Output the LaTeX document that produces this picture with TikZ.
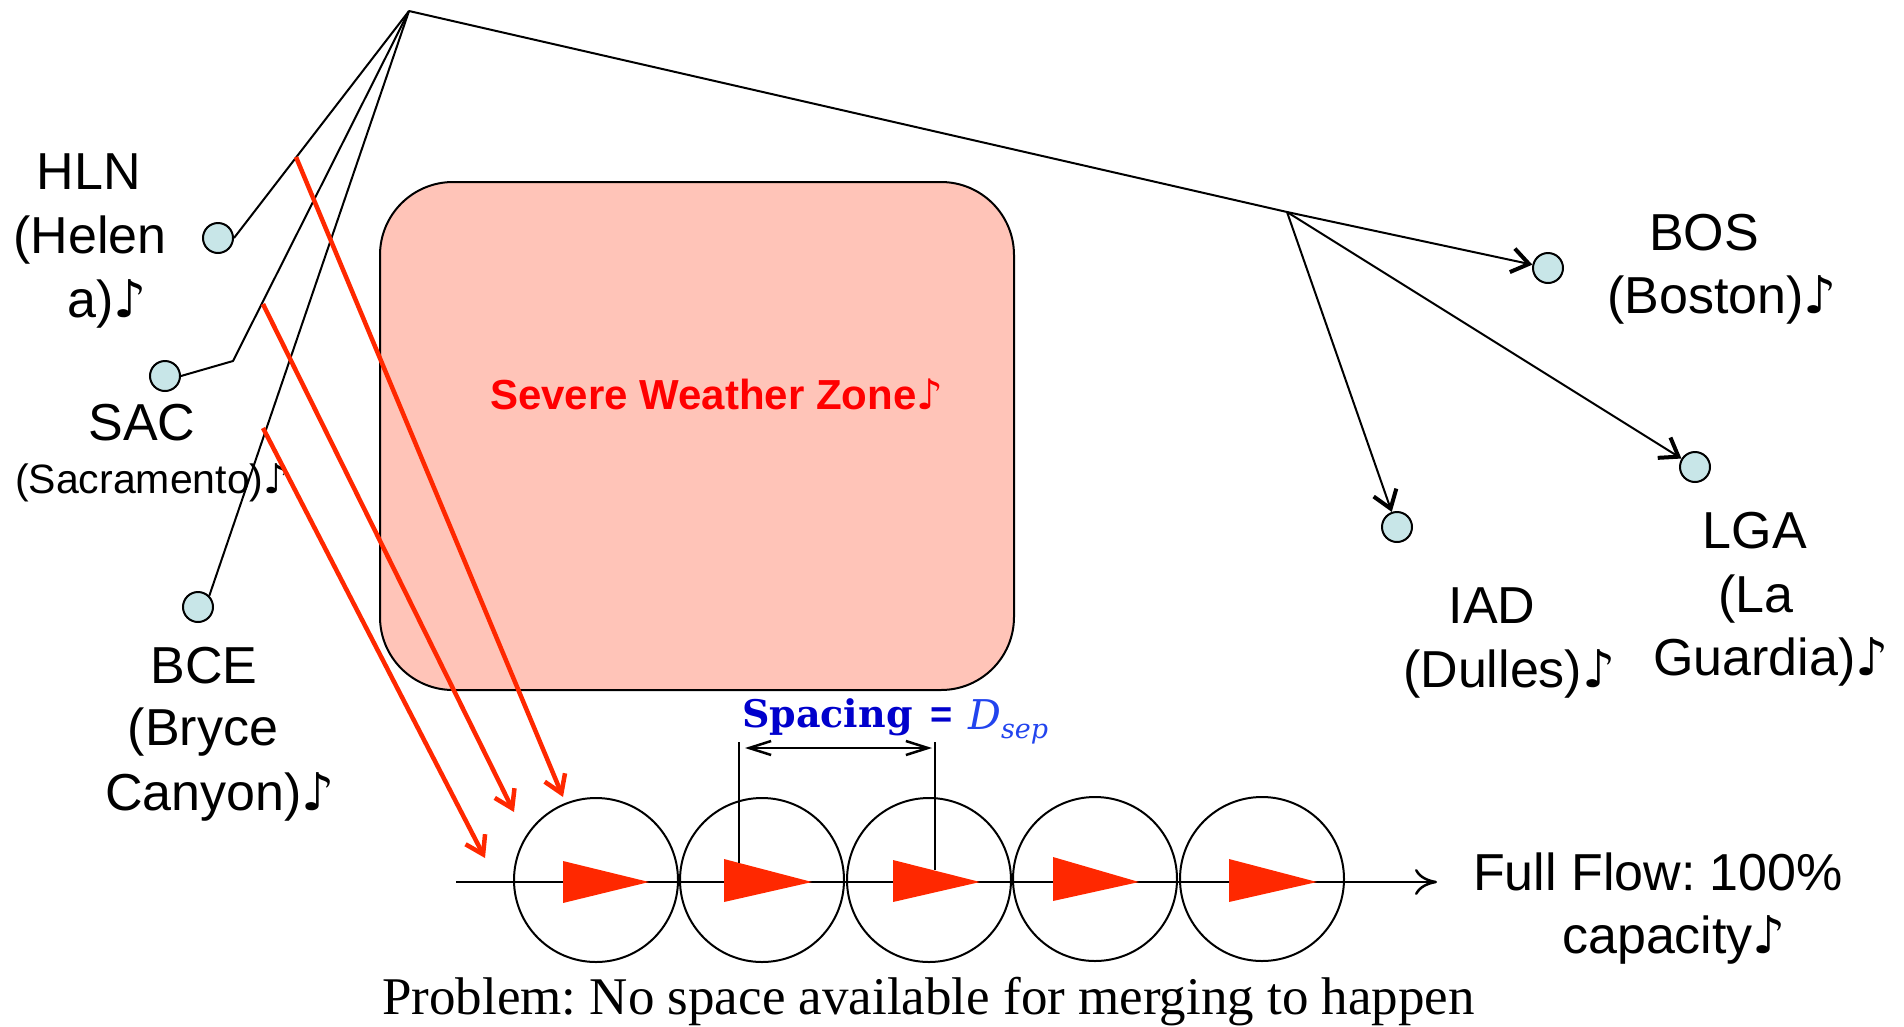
\documentclass[tikz,border=0pt]{standalone}
\usepackage{fontspec}
\setmainfont{Liberation Sans}
\newfontfamily\timesfont{Liberation Serif}
\newfontfamily\scholafont{DejaVu Serif}
\newfontfamily\djvfont{DejaVu Sans}
\newcommand\mnote{{\djvfont ♪}}
\usetikzlibrary{arrows.meta}
\definecolor{arrred}{RGB}{255,40,0}
\definecolor{zonefill}{RGB}{255,196,184}
\definecolor{aptfill}{RGB}{200,230,232}
\definecolor{spblue}{RGB}{0,0,204}
\definecolor{dblue}{RGB}{34,68,238}
\frenchspacing
\begin{document}
\begin{tikzpicture}[x=1pt,y=-1pt,
  apt/.style={circle,draw=black,line width=2pt,fill=aptfill,minimum size=30pt,inner sep=0pt},
  lbl/.style={anchor=base,inner sep=0pt,font=\fontsize{52}{62}\selectfont},
  lblw/.style={anchor=base west,inner sep=0pt,font=\fontsize{52}{62}\selectfont},
  conn/.style={draw=black,line width=2pt},
  connarrow/.style={conn,-{Straight Barb[length=17pt,width=24pt,line width=4pt]}},
  redarrow/.style={draw=arrred,line width=4.5pt,-{Straight Barb[length=17pt,width=22pt,line width=4.5pt]}},
  flowcirc/.style={circle,draw=black,line width=2pt,minimum size=164pt,inner sep=0pt},
  plane/.style={fill=arrred}
]
\useasboundingbox (0,0) rectangle (1904,1026);

% severe weather zone
\node (zone) [draw=black,line width=2pt,fill=zonefill,rounded corners=73pt,
  minimum width=634pt,minimum height=508pt,inner sep=0pt] at (697,436) {};
\node (zonetxt) [anchor=base west,inner sep=0pt,text=red,
  font=\fontsize{42}{50}\selectfont\bfseries] at (490,409) {Severe Weather Zone\mnote};

% airports
\node (hln) [apt] at (218,238) {};
\node (sac) [apt] at (165,376) {};
\node (bce) [apt] at (198,607) {};
\node (bos) [apt] at (1548,268) {};
\node (lga) [apt] at (1695,467) {};
\node (iad) [apt] at (1397,527) {};

\coordinate (top) at (409,11);
\coordinate (fork) at (1287,212);
\coordinate (sacbend) at (233,361);

\draw[conn] (top) -- (hln.east);
\draw[conn] (top) -- (sacbend) -- (sac.east);
\draw[conn] (top) -- (bce.north east);
\draw[conn] (top) -- (fork);
\draw[connarrow] (fork) -- (bos);
\draw[connarrow] (fork) -- (iad);
\draw[connarrow] (fork) -- (lga);

% labels
\node (hlnA) [lbl] at (89,189) {HLN};
\node (hlnB) [lbl] at (90,253) {(Helen};
\node (hlnC) [lblw] at (67,317) {a)\mnote};
\node (sacA) [lbl] at (142,440) {SAC};
\node (sacB) [anchor=base west,inner sep=0pt,font=\fontsize{41}{50}\selectfont] at (15,493) {(Sacramento)\mnote};
\node (bceA) [lbl] at (204,683) {BCE};
\node (bceB) [lbl] at (203,745) {(Bryce};
\node (bceC) [lblw] at (105,810) {Canyon)\mnote};
\node (bosA) [lbl] at (1704,250) {BOS};
\node (bosB) [lblw] at (1607,313) {(Boston)\mnote};
\node (lgaA) [lbl] at (1755,548) {LGA};
\node (lgaB) [lbl] at (1756,612) {(La};
\node (lgaC) [lblw] at (1653,675) {Guardia)\mnote};
\node (iadA) [lbl] at (1492,623) {IAD};
\node (iadB) [lblw] at (1403,687) {(Dulles)\mnote};

% red merging arrows
\coordinate (r1s) at (296,157);
\coordinate (r1e) at (563,797);
\coordinate (r2s) at (263,304);
\coordinate (r2e) at (514,812);
\coordinate (r3s) at (263,428);
\coordinate (r3e) at (485,858);
\draw[redarrow] (r1s) -- (r1e);
\draw[redarrow] (r2s) -- (r2e);
\draw[redarrow] (r3s) -- (r3e);

% flow circles
\node (f1) [flowcirc] at (596,880) {};
\node (f2) [flowcirc] at (762,880) {};
\node (f3) [flowcirc] at (929,880) {};
\node (f4) [flowcirc] at (1095,879) {};
\node (f5) [flowcirc] at (1262,879) {};

\coordinate (axs) at (456,882);
\coordinate (axe) at (1437,882);
\draw[line width=2pt,-{Computer Modern Rightarrow[length=22pt,width=26pt,line width=2.5pt]}] (axs) -- (axe);

% planes
\fill[plane] (563,861) -- (649,882) -- (563,903) -- cycle;
\fill[plane] (724,859) -- (812,882) -- (724,902) -- cycle;
\fill[plane] (893,860) -- (980,882) -- (893,902) -- cycle;
\fill[plane] (1053,857) -- (1139,882) -- (1053,901) -- cycle;
\fill[plane] (1229,859) -- (1317,882) -- (1229,902) -- cycle;

% spacing annotation
\coordinate (vl1t) at (739,742);
\coordinate (vl1b) at (739,863);
\coordinate (vl2t) at (935,742);
\coordinate (vl2b) at (935,870);
\draw[line width=2pt] (vl1t) -- (vl1b);
\draw[line width=2pt] (vl2t) -- (vl2b);
\coordinate (dal) at (745,748);
\coordinate (dar) at (932,748);
\draw[line width=2pt,{Straight Barb[length=22pt,width=14pt,line width=2.5pt]}-{Straight Barb[length=22pt,width=14pt,line width=2.5pt]}] (dal) -- (dar);
\node (spacing) [anchor=base west,inner sep=0pt,text=spblue,font=\fontsize{38}{44}\selectfont\scholafont\bfseries] at (742,727)
  {Spacing};
\node (eqsign) [anchor=base west,inner sep=0pt,text=spblue,font=\fontsize{38}{44}\selectfont\bfseries] at (930,727) {=};
\node (dsep) [anchor=base west,inner sep=0pt,text=dblue,font=\fontsize{41}{48}\selectfont\scholafont\itshape] at (968,729)
  {D\raisebox{-9pt}{\fontsize{27}{32}\selectfont sep}};

% flow text
\node (fullA) [lbl] at (1658,890) {Full Flow: 100\%};
\node (fullB) [lblw] at (1562,953) {capacity\mnote};

% problem text
\node (problem) [anchor=base west,inner sep=0pt,font=\fontsize{53}{62}\selectfont\timesfont] at (382,1014)
  {Problem: No space available for merging to happen};
\end{tikzpicture}
\end{document}
